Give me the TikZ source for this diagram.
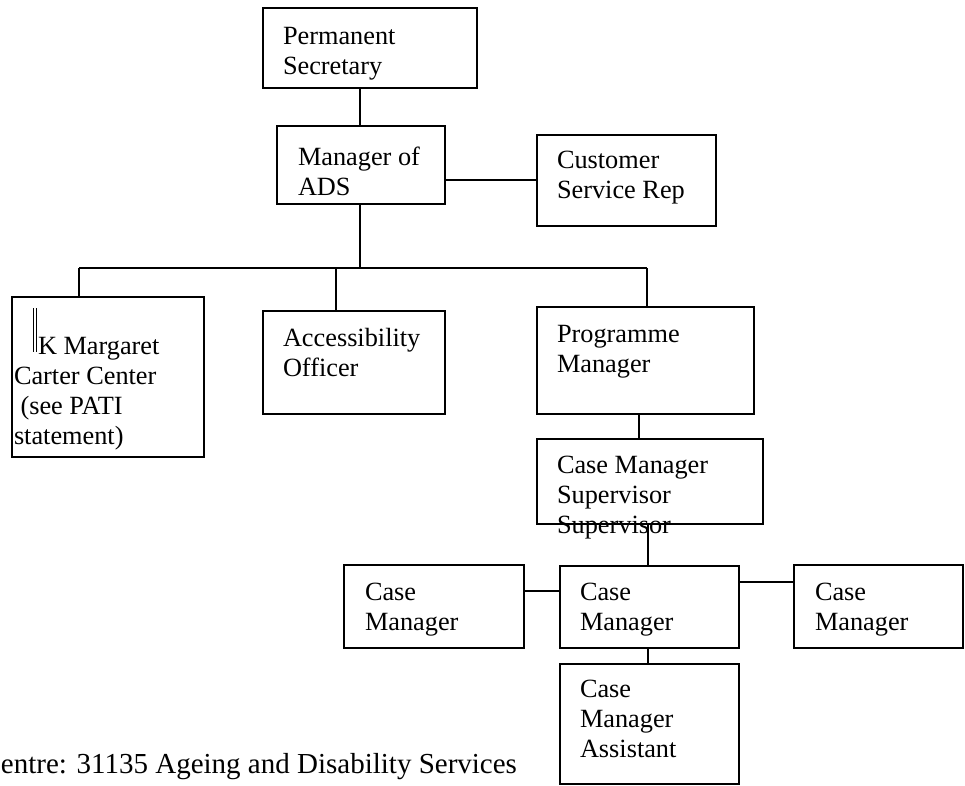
\documentclass[tikz,border=0pt]{standalone}
\usepackage{fontspec}
\setmainfont{Liberation Serif}
\newcommand\stk[1]{\vtop{\halign{##\hfil\cr#1\crcr}}}
\begin{document}
\begin{tikzpicture}[x=1pt,y=-1pt,
  box/.style={draw, line width=1.6pt, inner sep=0pt, outer sep=0pt, anchor=north west},
  txt/.style={anchor=base west, inner sep=0pt, outer sep=0pt, font=\fontsize{26.3}{30}\selectfont},
  con/.style={line width=1.8pt}]
\useasboundingbox (0,0) rectangle (965,785);
% boxes
\node[box, minimum width=214, minimum height=80]  (ps)  at (263,8)   {};
\node[box, minimum width=168, minimum height=78]  (mgr) at (277,126) {};
\node[box, minimum width=179, minimum height=91]  (csr) at (537,135) {};
\node[box, minimum width=192, minimum height=160] (kmc) at (12,297)  {};
\node[box, minimum width=182, minimum height=103] (ao)  at (263,311) {};
\node[box, minimum width=217, minimum height=107] (pm)  at (537,307) {};
\node[box, minimum width=226, minimum height=85]  (cms) at (537,439) {};
\node[box, minimum width=180, minimum height=83]  (cm1) at (344,565) {};
\node[box, minimum width=179, minimum height=82]  (cm2) at (560,566) {};
\node[box, minimum width=169, minimum height=83]  (cm3) at (794,565) {};
\node[box, minimum width=179, minimum height=120] (cma) at (560,664) {};
% texts
\node[txt] (tps)  at (283,44)  {\stk{Permanent\cr Secretary}};
\node[txt] (tmgr) at (298,165) {\stk{Manager of\cr ADS}};
\node[txt] (tcsr) at (557,168) {\stk{Customer\cr Service Rep}};
\node[txt] (tkmc) at (14,354)  {\stk{\hspace*{24pt}K Margaret\cr Carter Center\cr\ (see PATI\cr statement)}};
\node[txt] (tao)  at (283,346) {\stk{Accessibility\cr Officer}};
\node[txt] (tpm)  at (557,342) {\stk{Programme\cr Manager}};
\node[txt] (tcms) at (557,473) {\stk{Case Manager\cr Supervisor\cr Supervisor}};
\node[txt] (tcm1) at (365,600) {\stk{Case\cr Manager}};
\node[txt] (tcm2) at (580,600) {\stk{Case\cr Manager}};
\node[txt] (tcm3) at (815,600) {\stk{Case\cr Manager}};
\node[txt] (tcma) at (580,697) {\stk{Case\cr Manager\cr Assistant}};
\node[txt, font=\fontsize{29}{33}\selectfont] (foot) at (1,773) {entre: 31135 Ageing and Disability Services};
% double bar mark
\draw[line width=0.8pt] (33,308) -- (33,352);
\draw[line width=0.8pt] (36,308) -- (36,352);
% helper coordinates
\coordinate (x360) at (360,0);
\coordinate (y180) at (0,180);
\coordinate (barL) at (79,268);
\coordinate (barA) at (336,268);
\coordinate (barR) at (647,268);
\coordinate (x639) at (639,0);
\coordinate (x648) at (648,0);
\coordinate (y591) at (0,591);
\coordinate (y582) at (0,582);
% connectors
\draw[con] (ps.south -| x360) -- (mgr.north -| x360);
\draw[con] (mgr.east |- y180) -- (csr.west |- y180);
\draw[con] (mgr.south -| x360) -- (barL -| x360);
\draw[con] (barL) -- (barR);
\draw[con] (barL) -- (barL |- kmc.north);
\draw[con] (barA) -- (barA |- ao.north);
\draw[con] (barR) -- (barR |- pm.north);
\draw[con] (pm.south -| x639) -- (cms.north -| x639);
\draw[con] (cms.south -| x648) -- (cm2.north -| x648);
\draw[con] (cm1.east |- y591) -- (cm2.west |- y591);
\draw[con] (cm2.east |- y582) -- (cm3.west |- y582);
\draw[con] (cm2.south -| x648) -- (cma.north -| x648);
\end{tikzpicture}
\end{document}
